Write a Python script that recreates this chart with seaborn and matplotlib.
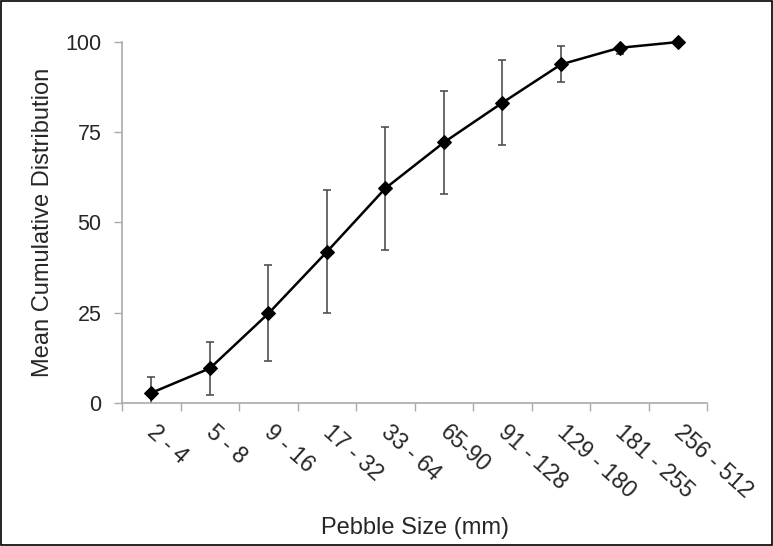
import matplotlib
matplotlib.use("Agg")
import matplotlib.pyplot as plt
import matplotlib.transforms as mtransforms
from matplotlib.patches import Rectangle
import seaborn as sns
import pandas as pd
import numpy as np

categories = ["2 - 4", "5 - 8", "9 - 16", "17 - 32", "33 - 64", "65-90",
              "91 - 128", "129 - 180", "181 - 255", "256 - 512"]
means = [2.8, 9.6, 24.8, 41.9, 59.5, 72.2, 83.2, 93.8, 98.4, 100.0]
errors = [4.3, 7.4, 13.3, 17.1, 17.0, 14.3, 11.8, 5.0, 1.8, 0.0]
yticks = [0, 25, 50, 75, 100]

sns.set_theme(style="white")
plt.rcParams["font.family"] = ["Liberation Sans", "DejaVu Sans"]

df = pd.DataFrame({"pos": np.arange(len(categories)), "size": categories,
                   "mean": means, "err": errors})

fig = plt.figure(figsize=(7.73, 5.46), dpi=100)
ax = fig.add_axes([0.158, 0.262, 0.757, 0.661])

ax.errorbar(df["pos"], df["mean"], yerr=df["err"], fmt="none",
            ecolor="#505050", elinewidth=1.2, capsize=3, capthick=1.2,
            zorder=2, clip_on=True)
sns.lineplot(data=df, x="pos", y="mean", ax=ax, color="black", lw=1.8,
             marker="D", markersize=7.5, markeredgecolor="black", zorder=3,
             clip_on=False)

ax.set_xlim(-0.5, len(categories) - 0.5)
ax.set_ylim(0, 100)
ax.set_yticks(yticks)
ax.set_yticklabels([str(t) for t in yticks], fontsize=15.5)

ax.set_xticks(np.arange(len(categories)))
ax.set_xticklabels(categories, rotation=-42, ha="left", va="top",
                   rotation_mode="anchor", fontsize=16.5)
ax.set_xticks(np.arange(len(categories) + 1) - 0.5, minor=True)
ax.tick_params(axis="x", which="major", length=0, pad=13)
ax.tick_params(axis="x", which="minor", length=6, width=1, color="#aaaaaa",
               direction="out", bottom=True)
ax.tick_params(axis="y", length=6, width=1, color="#aaaaaa", direction="out",
               left=True, pad=9)
offset = mtransforms.ScaledTranslation(5 / 72, 0, fig.dpi_scale_trans)
for lab in ax.get_xticklabels():
    lab.set_transform(lab.get_transform() + offset)

for s in ["top", "right"]:
    ax.spines[s].set_visible(False)
for s in ["left", "bottom"]:
    ax.spines[s].set_color("#aaaaaa")
    ax.spines[s].set_linewidth(1.2)

ax.set_xlabel("Pebble Size (mm)", fontsize=17, labelpad=10)
ax.set_ylabel("Mean Cumulative Distribution", fontsize=17, labelpad=8)

fig.patches.append(Rectangle((0.001, 0.001), 0.998, 0.998, transform=fig.transFigure,
                             fill=False, edgecolor="black", lw=1.2))

fig.savefig("out.png", dpi=100)
